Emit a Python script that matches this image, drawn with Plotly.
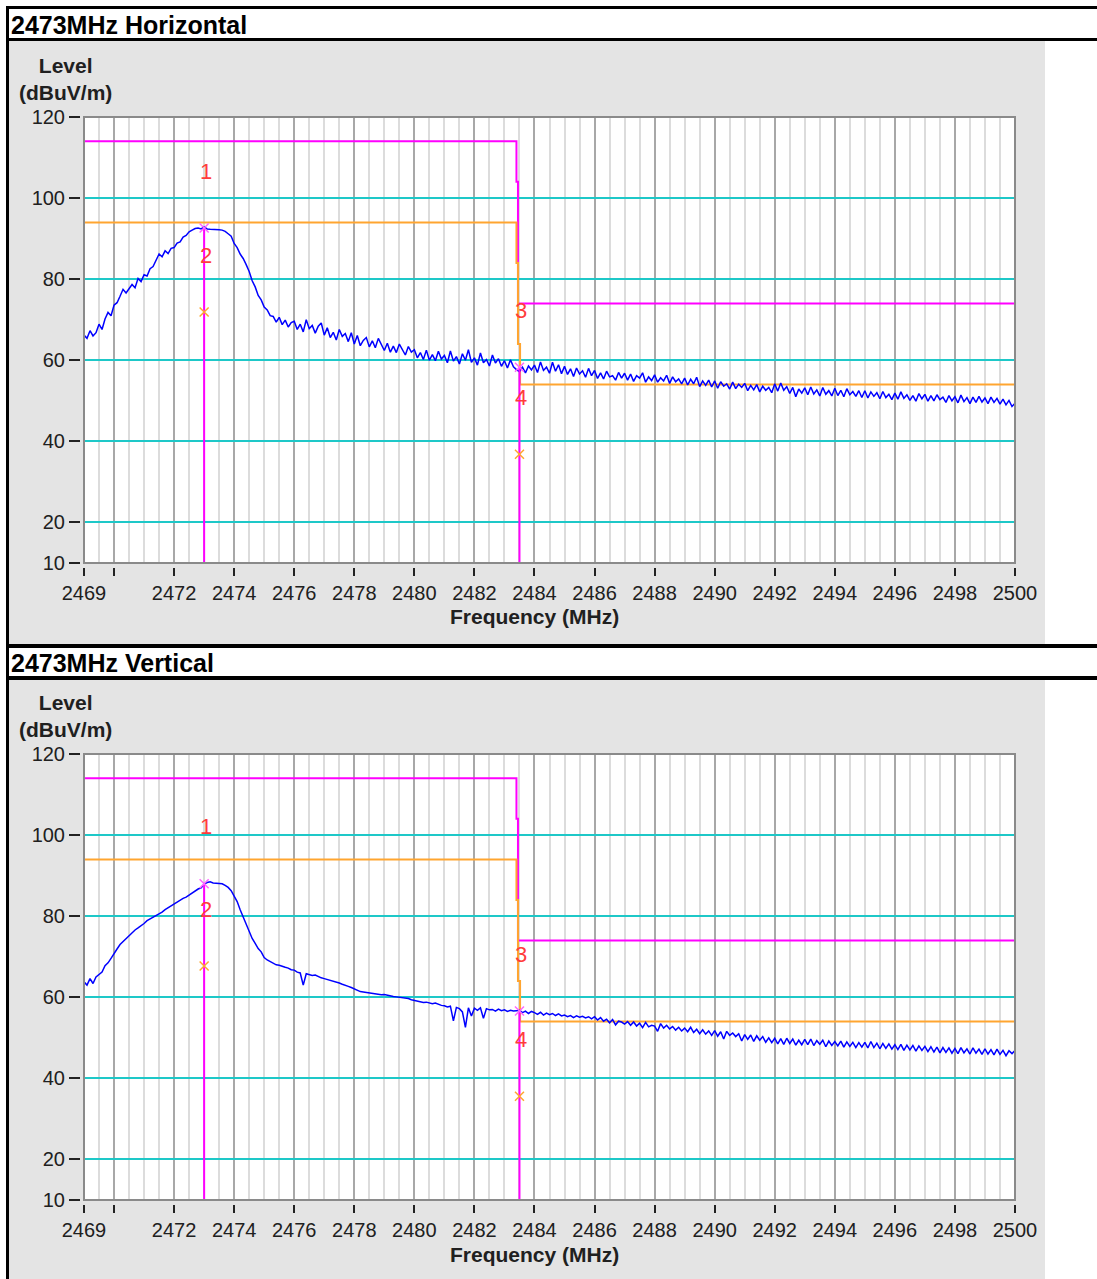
import plotly.graph_objects as go

# ---------------- data ----------------
FREQ_START = 2469.0
FREQ_STEP = 0.1

h_level = [
    66.2, 65.4, 67.3, 66.0, 66.8, 68.9, 67.6, 70.2, 71.8, 71.0,
    73.6, 74.2, 75.8, 77.5, 76.6, 77.8, 78.7, 77.9, 80.2, 79.4,
    81.1, 80.8, 82.6, 83.1, 84.8, 86.2, 85.5, 87.0, 86.3, 87.6,
    87.8, 88.9, 89.2, 90.4, 90.8, 91.7, 92.1, 92.5, 92.6, 92.4,
    92.9, 92.4, 92.3, 92.3, 92.3, 92.2, 92.1, 91.8, 91.2, 90.6,
    88.8, 87.8, 86.2, 85.1, 83.6, 81.9, 79.6, 78.1, 76.0, 74.9,
    73.1, 72.4, 71.0, 70.8, 69.4, 70.6, 68.8, 69.9, 68.2, 69.3,
    69.6, 67.6, 68.9, 67.0, 70.0, 67.8, 68.6, 66.7, 68.4, 69.2,
    66.2, 68.0, 65.6, 66.9, 65.0, 67.6, 65.9, 66.6, 64.6, 66.8,
    64.0, 66.1, 63.6, 64.9, 65.6, 63.3, 64.8, 63.1, 65.4, 63.8,
    62.4, 64.2, 62.0, 63.5, 61.9, 64.0, 62.6, 61.3, 63.4, 62.0,
    62.6, 60.6, 61.9, 60.2, 62.5, 60.0, 61.4, 59.9, 62.2, 60.3,
    61.2, 59.4, 62.3, 59.8, 60.9, 59.1, 61.6, 60.0, 62.6, 59.5,
    60.6, 58.8, 61.8, 59.4, 60.2, 58.6, 61.3, 59.3, 60.4, 58.5,
    59.9, 58.1, 60.1, 58.4, 57.7, 57.2, 58.3, 56.9, 58.6, 57.6,
    58.8, 57.0, 59.6, 57.5, 58.3, 56.8, 59.5, 57.3, 58.9, 56.7,
    58.5, 56.5, 57.9, 56.0, 58.1, 56.6, 57.4, 55.8, 58.0, 56.2,
    57.5, 55.5, 56.9, 55.4, 57.3, 55.9, 56.2, 55.1, 57.0, 55.6,
    56.8, 55.1, 56.6, 54.8, 56.2, 55.6, 56.9, 54.6, 55.9, 55.0,
    56.4, 54.6, 55.7, 54.9, 56.3, 54.3, 55.9, 54.7, 55.4, 54.2,
    55.6, 53.9, 55.3, 54.2, 55.8, 53.5, 54.9, 53.8, 55.1, 53.4,
    54.9, 53.1, 54.7, 53.6, 54.2, 52.9, 54.6, 53.0, 54.1, 53.3,
    54.3, 52.5, 53.8, 52.7, 54.0, 52.2, 53.6, 52.6, 53.3, 52.0,
    54.2, 52.4, 54.4, 52.6, 53.5, 51.8, 53.3, 51.0, 52.9, 51.9,
    53.2, 51.5, 53.4, 51.7, 52.7, 51.2, 53.3, 51.6, 52.5, 51.2,
    53.1, 51.3, 52.6, 51.0, 53.0, 51.5, 52.3, 51.1, 52.5, 50.8,
    52.5, 50.7, 52.2, 51.1, 52.0, 50.5, 52.3, 50.8, 51.6, 50.3,
    51.9, 50.4, 52.2, 50.6, 51.5, 50.1, 51.3, 49.9, 51.8, 50.5,
    51.6, 49.9, 51.3, 50.0, 51.5, 50.3, 50.9, 49.6, 51.3, 50.0,
    51.0, 49.5, 51.4, 49.8, 50.8, 49.3, 50.9, 49.6, 51.1, 49.7,
    50.7, 49.3, 50.9, 49.6, 50.6, 49.2, 50.4, 49.0, 50.1, 48.6,
    49.4,
]

v_level = [
    63.8, 63.0, 64.6, 63.4, 65.0, 65.6, 66.2, 67.8, 68.5, 69.6,
    70.6, 71.9, 73.0, 73.7, 74.4, 75.3, 75.9, 76.6, 77.1, 77.6,
    78.2, 78.9, 79.3, 79.7, 80.0, 80.4, 81.0, 81.6, 82.1, 82.5,
    83.1, 83.6, 84.0, 84.4, 84.7, 85.2, 85.8, 86.2, 86.7, 87.0,
    87.9, 88.3, 88.5, 88.2, 88.1, 88.1, 88.0, 87.6, 87.1, 86.3,
    84.8, 83.6, 81.6, 79.8, 78.0, 76.2, 74.5, 73.3, 72.0, 71.2,
    69.8, 69.2, 68.8, 68.4, 68.0, 67.9, 67.6, 67.4, 67.2, 66.8,
    66.7, 66.2, 66.0, 63.0, 65.8, 65.6, 65.4, 65.5, 65.1, 64.8,
    64.6, 64.4, 64.1, 63.9, 63.8, 63.5, 63.2, 63.0, 62.7, 62.4,
    62.0, 61.6, 61.4, 61.3, 61.2, 61.0, 61.0, 60.9, 60.8, 60.6,
    60.7, 60.5, 60.4, 60.2, 60.1, 60.0, 59.8, 59.7, 59.7, 59.4,
    59.2, 59.0, 58.9, 58.7, 58.8, 58.5, 58.4, 58.6, 58.2, 58.0,
    57.9, 57.6, 57.8, 54.2, 57.5, 57.2, 56.4, 52.6, 57.4, 55.4,
    57.3, 56.8, 57.4, 54.8, 57.2, 56.9, 57.0, 56.6, 57.1, 56.7,
    56.9, 56.5, 56.8, 56.6, 56.7, 56.8, 56.2, 56.6, 56.0, 56.5,
    56.2, 55.8, 56.3, 55.6, 56.1, 55.7, 56.0, 55.5, 55.9, 55.4,
    55.6, 55.2, 55.5, 55.0, 55.4, 55.1, 55.3, 54.9, 55.2, 54.7,
    55.2, 54.4, 55.0, 54.1, 54.6, 53.7, 54.5, 53.2, 54.1, 53.9,
    53.4, 54.0, 53.1, 53.9, 52.9, 53.6, 52.5, 53.8, 52.7, 53.1,
    52.9, 51.6, 53.5, 52.4, 53.1, 52.2, 52.8, 51.9, 52.6, 51.7,
    52.4, 51.5, 52.6, 51.3, 52.1, 51.0, 52.0, 50.9, 51.7, 50.6,
    51.8, 50.4, 51.5, 49.7, 51.6, 50.6, 51.2, 50.3, 51.0, 49.2,
    50.8, 49.6, 50.7, 49.1, 50.5, 49.4, 50.3, 48.9, 50.0, 48.8,
    49.9, 48.5, 49.8, 48.4, 49.9, 48.6, 49.7, 48.2, 49.4, 48.3,
    49.6, 48.3, 49.7, 48.1, 49.3, 48.4, 49.4, 47.8, 49.2, 48.1,
    49.1, 48.0, 49.2, 47.7, 49.0, 47.9, 48.9, 47.6, 48.8, 47.7,
    48.9, 47.5, 49.1, 47.6, 48.7, 47.3, 48.6, 47.4, 48.5, 47.2,
    48.3, 47.1, 48.4, 46.9, 48.2, 47.0, 48.1, 46.7, 48.0, 46.9,
    47.9, 46.6, 47.8, 46.5, 47.7, 46.3, 47.6, 46.4, 47.5, 46.2,
    47.4, 46.1, 47.6, 46.3, 47.3, 46.0, 47.5, 46.2, 47.2, 45.9,
    47.3, 46.0, 47.1, 45.8, 47.2, 45.9, 46.9, 45.6, 46.8, 46.1,
    46.9,
]

freq = [round(FREQ_START + i * FREQ_STEP, 1) for i in range(len(h_level))]

peak_limit_freq = [2469.0, 2483.4, 2483.4, 2483.45, 2483.45, 2500.0]
peak_limit_level = [114, 114, 104, 104, 74, 74]
avg_limit_freq = [2469.0, 2483.4, 2483.4, 2483.45, 2483.45, 2483.52, 2483.52, 2500.0]
avg_limit_level = [94, 94, 84, 84, 64, 64, 54, 54]

marker_freq = [2473.0, 2473.0, 2483.5, 2483.5]
marker_labels = ["1", "2", "3", "4"]
h_marker_level = [92.6, 71.9, 58.3, 36.8]
v_marker_level = [88.0, 67.7, 56.6, 35.6]

panel_titles = ["2473MHz Horizontal", "2473MHz Vertical"]

y_ticks = [10, 20, 40, 60, 80, 100, 120]
x_ticks = [2469, 2470, 2472, 2474, 2476, 2478, 2480, 2482, 2484, 2486,
           2488, 2490, 2492, 2494, 2496, 2498, 2500]
x_ticktext = ["" if t == 2470 else str(t) for t in x_ticks]

# ---------------- layout helpers ----------------
W, H = 1097, 1279


def px(x):
    return x / W


def py(y):
    return 1 - y / H


MAGENTA = "#ff00ff"
ORANGE = "#ffa530"
BLUE = "#0000ff"
CYAN = "#1ec8c8"
LABEL_RED = "#ff3c3c"
PANEL_GRAY = "#e4e4e4"
TXT = "#202020"
FONT = "Liberation Sans, Arial, sans-serif"

panels = [
    dict(top=117, bottom=563, htop=9, hbot=38, pbot=644),
    dict(top=754, bottom=1200, htop=648, hbot=676, pbot=1279),
]
levels = [h_level, v_level]
marker_levels = [h_marker_level, v_marker_level]

fig = go.Figure()
shapes = []
annotations = []

for p in panels:
    shapes.append(dict(type="rect", xref="paper", yref="paper",
                       x0=px(9), x1=px(1045), y0=py(p["pbot"]), y1=py(p["hbot"] + 3),
                       fillcolor=PANEL_GRAY, line=dict(width=0), layer="below"))
shapes.append(dict(type="rect", xref="paper", yref="paper", x0=px(6), x1=px(9),
                   y0=0, y1=py(6), fillcolor="black", line=dict(width=0), layer="below"))
for (a, b) in [(6, 9), (38, 41), (644, 648), (676, 680)]:
    shapes.append(dict(type="rect", xref="paper", yref="paper", x0=px(6), x1=1,
                       y0=py(b), y1=py(a), fillcolor="black", line=dict(width=0), layer="below"))

for i, p in enumerate(panels):
    n = "" if i == 0 else str(i + 1)
    xa = "x" + n
    ya = "y" + n
    lv = levels[i]
    ml = marker_levels[i]

    shapes.append(dict(type="rect", xref=xa + " domain", yref=ya + " domain",
                       x0=0, x1=1, y0=0, y1=1, fillcolor="white",
                       line=dict(width=0), layer="below"))

    fig.add_trace(go.Scatter(x=peak_limit_freq, y=peak_limit_level, mode="lines",
                             line=dict(color=MAGENTA, width=2), xaxis=xa, yaxis=ya,
                             showlegend=False, hoverinfo="skip"))
    fig.add_trace(go.Scatter(x=avg_limit_freq, y=avg_limit_level, mode="lines",
                             line=dict(color=ORANGE, width=2), xaxis=xa, yaxis=ya,
                             showlegend=False, hoverinfo="skip"))
    fig.add_trace(go.Scatter(x=freq, y=lv, mode="lines",
                             line=dict(color=BLUE, width=1.5), xaxis=xa, yaxis=ya,
                             showlegend=False))
    for k in (0, 2):
        fig.add_trace(go.Scatter(x=[marker_freq[k], marker_freq[k]], y=[10, ml[k]],
                                 mode="lines", line=dict(color=MAGENTA, width=2),
                                 xaxis=xa, yaxis=ya, showlegend=False, hoverinfo="skip"))
    fig.add_trace(go.Scatter(x=marker_freq, y=ml, mode="markers",
                             marker=dict(symbol="x-thin", size=9,
                                         line=dict(width=1.5,
                                                   color=["#ff66ff", ORANGE, "#ff66ff", ORANGE])),
                             xaxis=xa, yaxis=ya, showlegend=False))
    for k in range(4):
        annotations.append(dict(x=marker_freq[k], y=ml[k], xref=xa, yref=ya,
                                text=marker_labels[k], showarrow=False, yshift=57, xshift=2,
                                font=dict(family=FONT, size=22, color=LABEL_RED)))

    shapes.append(dict(type="rect", xref=xa + " domain", yref=ya + " domain",
                       x0=0, x1=1, y0=0, y1=1, line=dict(color="#8a8a8a", width=2),
                       layer="above"))

    annotations.append(dict(x=px(9), y=py((p["htop"] + p["hbot"]) / 2 + 1), xref="paper",
                            yref="paper", xanchor="left", yanchor="middle",
                            text="<b>%s</b>" % panel_titles[i], showarrow=False,
                            font=dict(family=FONT, size=25, color="black")))
    annotations.append(dict(x=px(65), y=py(p["top"] - 38), xref="paper", yref="paper",
                            xanchor="center", yanchor="middle",
                            text="<b>Level<br>(dBuV/m)</b>", showarrow=False,
                            font=dict(family=FONT, size=21, color=TXT)))
    annotations.append(dict(x=px(534), y=py(p["bottom"] + 54), xref="paper", yref="paper",
                            xanchor="center", yanchor="middle",
                            text="<b>Frequency (MHz)</b>", showarrow=False,
                            font=dict(family=FONT, size=21, color=TXT)))

    xaxis = dict(domain=[px(84), px(1015)], range=[2469, 2500],
                 tickvals=x_ticks, ticktext=x_ticktext,
                 showgrid=True, gridcolor="#a8a8a8", gridwidth=1.5,
                 minor=dict(dtick=0.5, tick0=2469, showgrid=True, gridcolor="#dcdcdc",
                            gridwidth=1.5, ticks=""),
                 anchor="free", position=py(p["bottom"] + 4), automargin=False,
                 ticks="outside", ticklen=8, tickwidth=1.5, tickcolor="#222222",
                 showline=False, zeroline=False,
                 tickfont=dict(family=FONT, size=20, color=TXT))
    yaxis = dict(domain=[py(p["bottom"]), py(p["top"])], range=[10, 120],
                 tickvals=y_ticks, showgrid=True, gridcolor=CYAN, gridwidth=1.5,
                 anchor="free", position=px(80), automargin=False,
                 ticks="outside", ticklen=11, tickwidth=1.5, tickcolor="#222222",
                 showline=False, zeroline=False,
                 tickfont=dict(family=FONT, size=20, color=TXT))
    fig.layout["xaxis" + n] = xaxis
    fig.layout["yaxis" + n] = yaxis

fig.update_layout(width=W, height=H, autosize=False,
                  margin=dict(l=0, r=0, t=0, b=0, pad=0),
                  paper_bgcolor="white", plot_bgcolor="white",
                  shapes=shapes, annotations=annotations,
                  showlegend=False, hovermode=False)

fig.write_html("out.html", config={"displayModeBar": False},
               post_script="document.body.style.margin='0px';document.body.style.overflow='hidden';")
